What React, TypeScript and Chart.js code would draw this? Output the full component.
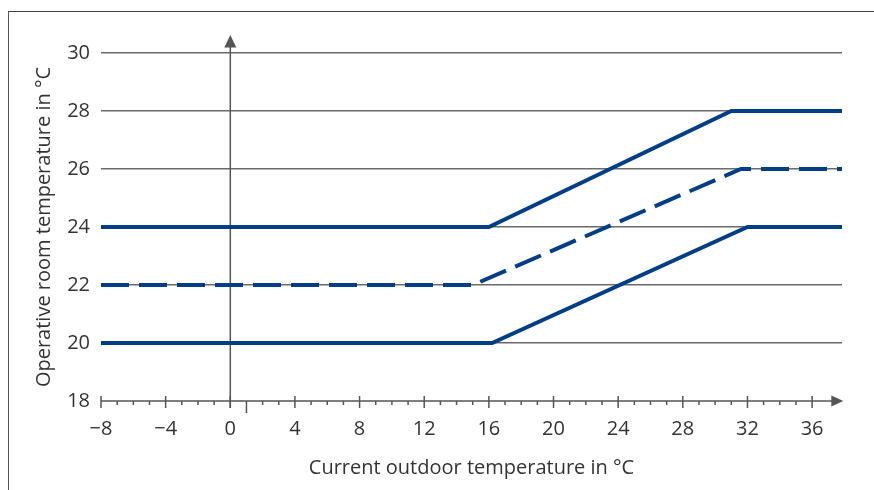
import React, { useEffect, useRef } from "react";
import { Chart, registerables } from "chart.js";

Chart.register(...registerables);

// ---- data ----
const xTickValues = [-8, -4, 0, 4, 8, 12, 16, 20, 24, 28, 32, 36];
const yTickValues = [18, 20, 22, 24, 26, 28, 30];

const upperX = [-8, 16, 31, 37.85];
const upperY = [24, 24, 28, 28];

const middleX = [-8, 15, 31.6, 37.85];
const middleY = [22, 22, 26, 26];

const lowerX = [-8, 16.2, 32, 37.85];
const lowerY = [20, 20, 24, 24];

const xTitle = "Current outdoor temperature in °C";
const yTitle = "Operative room temperature in °C";

// ---- scale range ----
const X_MIN = -8;
const X_MAX = 37.85;
const Y_MIN = 18;
const Y_MAX = 30;
const X_ARROW_TIP = 37.93;
const Y_ARROW_TIP = 30.62;
const LONG_TICK_AT = 1;

const LINE_COLOR = "#023e85";
const GRID_COLOR = "#6a6a6a";
const AXIS_COLOR = "#555555";
const TEXT_COLOR = "#333333";
const FONT = "'Open Sans', 'Noto Sans', sans-serif";

const toPoints = (xs: number[], ys: number[]) => xs.map((x, i) => ({ x, y: ys[i] }));
const fmt = (v: number) => (v < 0 ? "\u2212" + Math.abs(v) : String(v));

const axesPlugin = {
  id: "axesArrows",
  beforeDatasetsDraw(chart: any) {
    const { ctx } = chart;
    const x = chart.scales.x;
    const y = chart.scales.y;
    const y0 = y.getPixelForValue(Y_MIN);
    const x0 = x.getPixelForValue(0);
    const xl = x.getPixelForValue(X_MIN);
    const xTip = x.getPixelForValue(X_ARROW_TIP);
    const yTip = y.getPixelForValue(Y_ARROW_TIP);
    ctx.save();
    ctx.strokeStyle = AXIS_COLOR;
    ctx.fillStyle = AXIS_COLOR;
    ctx.lineWidth = 1.5;
    // x axis line
    ctx.beginPath();
    ctx.moveTo(xl, y0);
    ctx.lineTo(xTip - 8, y0);
    ctx.stroke();
    // tick marks
    for (let v = X_MIN; v <= 36; v++) {
      const px = x.getPixelForValue(v);
      ctx.beginPath();
      if (v % 4 === 0) {
        ctx.moveTo(px, y0 - 5);
        ctx.lineTo(px, y0 + 7);
      } else if (v === LONG_TICK_AT) {
        ctx.moveTo(px, y0);
        ctx.lineTo(px, y0 + 12);
      } else {
        ctx.moveTo(px, y0);
        ctx.lineTo(px, y0 + 4);
      }
      ctx.stroke();
    }
    // x arrow head
    ctx.beginPath();
    ctx.moveTo(xTip, y0);
    ctx.lineTo(xTip - 12, y0 - 5.5);
    ctx.lineTo(xTip - 12, y0 + 5.5);
    ctx.closePath();
    ctx.fill();
    // y axis line
    ctx.beginPath();
    ctx.moveTo(x0, y0 + 7);
    ctx.lineTo(x0, yTip + 8);
    ctx.stroke();
    // y arrow head
    ctx.beginPath();
    ctx.moveTo(x0, yTip);
    ctx.lineTo(x0 - 6, yTip + 12.5);
    ctx.lineTo(x0 + 6, yTip + 12.5);
    ctx.closePath();
    ctx.fill();
    ctx.restore();
  },
};

export default function App() {
  const canvasRef = useRef<HTMLCanvasElement | null>(null);

  useEffect(() => {
    if (!canvasRef.current) return;
    const lineDs = (label: string, xs: number[], ys: number[], dash: number[]) => ({
      label,
      data: toPoints(xs, ys),
      showLine: true,
      borderColor: LINE_COLOR,
      backgroundColor: LINE_COLOR,
      borderWidth: 4,
      borderDash: dash,
      borderCapStyle: "butt",
      borderJoinStyle: "miter",
      pointRadius: 0,
      tension: 0,
      fill: false,
    });
    const chart = new Chart(canvasRef.current, {
      type: "scatter",
      data: {
        datasets: [
          lineDs("Upper limit", upperX, upperY, []),
          lineDs("Set point", middleX, middleY, [28, 10]),
          lineDs("Lower limit", lowerX, lowerY, []),
        ] as any,
      },
      options: {
        animation: false,
        responsive: false,
        maintainAspectRatio: false,
        layout: { padding: { left: 0, top: 53, right: 32, bottom: 0 } },
        plugins: { legend: { display: false }, tooltip: { enabled: false } },
        scales: {
          x: {
            type: "linear",
            min: X_MIN,
            max: X_MAX,
            afterFit: (s: any) => {
              s.height = 89;
            },
            afterBuildTicks: (s: any) => {
              s.ticks = xTickValues.map((v) => ({ value: v }));
            },
            grid: { display: false, drawTicks: false },
            border: { display: false },
            ticks: {
              padding: 16,
              maxRotation: 0,
              autoSkip: false,
              color: TEXT_COLOR,
              font: { family: FONT, size: 20 },
              callback: (v: any) => fmt(Number(v)),
            },
            title: {
              display: true,
              text: xTitle,
              color: TEXT_COLOR,
              font: { family: FONT, size: 20 },
              padding: { top: 0, bottom: 10 },
            },
          },
          y: {
            type: "linear",
            min: Y_MIN,
            max: Y_MAX,
            afterFit: (s: any) => {
              s.width = 101;
            },
            afterBuildTicks: (s: any) => {
              s.ticks = yTickValues.map((v) => ({ value: v }));
            },
            grid: {
              drawTicks: false,
              color: (c: any) => (c.tick && c.tick.value === Y_MIN ? "rgba(0,0,0,0)" : GRID_COLOR),
              lineWidth: 1.6,
            },
            border: { display: false },
            ticks: {
              padding: 11,
              color: TEXT_COLOR,
              font: { family: FONT, size: 20 },
              callback: (v: any) => fmt(Number(v)),
            },
            title: {
              display: true,
              text: yTitle,
              color: TEXT_COLOR,
              font: { family: FONT, size: 20 },
              padding: { top: 32, bottom: 0 },
            },
          },
        },
      },
      plugins: [axesPlugin],
    } as any);
    return () => chart.destroy();
  }, []);

  return (
    <div style={{ position: "absolute", left: 0, top: 0, width: 874, height: 490, background: "#fff" }}>
      <div
        style={{
          position: "absolute",
          left: 8,
          top: 11,
          width: 866,
          height: 479,
          borderTop: "1.5px solid #444",
          borderLeft: "1.5px solid #555",
          boxSizing: "border-box",
        }}
      />
      <canvas ref={canvasRef} width={874} height={490} style={{ position: "absolute", left: 0, top: 0 }} />
    </div>
  );
}
